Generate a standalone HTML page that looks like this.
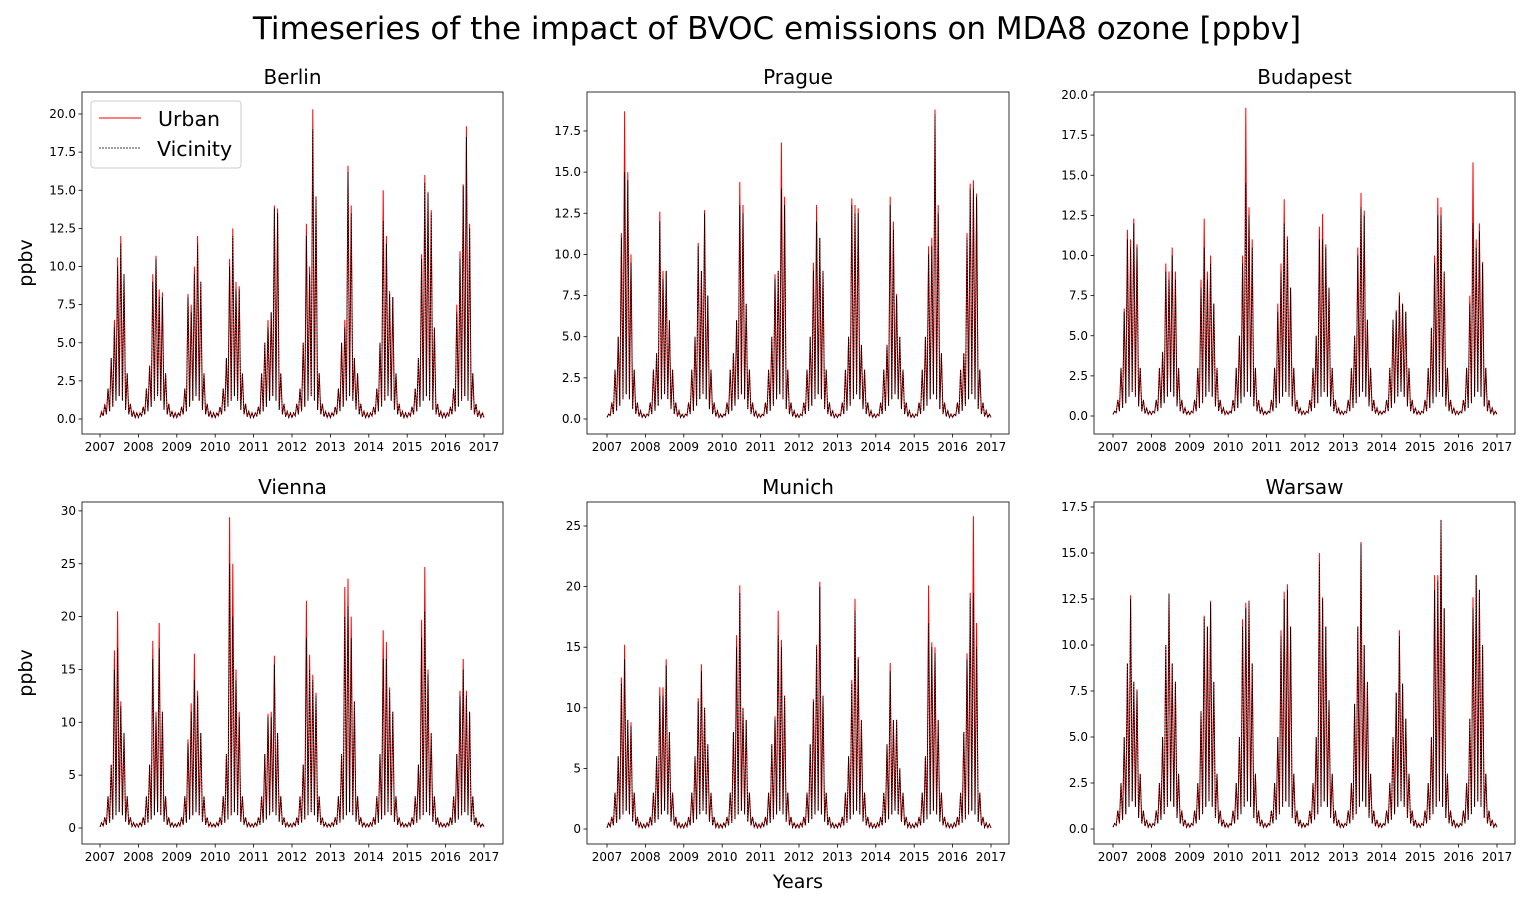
<!DOCTYPE html>
<html><head><meta charset="utf-8">
<style>
body{margin:0;background:#fff;}
svg{display:block;font-family:"DejaVu Sans","Liberation Sans",sans-serif;}
</style></head>
<body>
<svg id="fig" width="1533" height="904" viewBox="0 0 1533 904">
<text x="777" y="39" font-size="31" text-anchor="middle" fill="#000">Timeseries of the impact of BVOC emissions on MDA8 ozone [ppbv]</text>
<text x="798" y="888" font-size="19" text-anchor="middle">Years</text>
<text transform="translate(32,263) rotate(-90)" font-size="19" text-anchor="middle">ppbv</text>
<text transform="translate(32,673) rotate(-90)" font-size="19" text-anchor="middle">ppbv</text>
</svg>
<script>
const years = [2007,2008,2009,2010,2011,2012,2013,2014,2015,2016,2017];
const monthlyLow = [0.1,0.2,0.3,0.5,0.8,1.2,1.5,1.2,0.6,0.3,0.15,0.1];
const berlinUrban = [.5,1,2,4,6.5,10.6,12,9.5,3,1,.5,.4, .4,.8,2,3.5,9.5,10.7,8.5,8.3,3,1,.5,.4, .4,.8,2,8.2,7.5,10,12,9,3,1,.5,.4, .4,.8,2,4,10.5,12.5,9,8.7,3,1,.5,.4, .4,.8,3,5,6.5,7,14,13.8,3,1,.5,.4, .4,1,2,5,12.8,10,20.3,14.6,3,1,.5,.4, .4,.8,2,5,6.5,16.6,14,4,3,1,.5,.4, .4,.8,2,5,15,12,8.4,8,3,1,.5,.4, .4,.8,2,4,10.8,16,14.9,13.7,6,1,.5,.4, .4,.8,2,7.5,11,15.4,19.2,12.8,3,1,.5,.4];
const berlinVicinity = [.4,.9,2,4,6,10,11.5,9.5,3,1,.5,.4, .4,.8,2,3.5,9,10.5,8,8,3,1,.5,.4, .4,.8,2,8,7,9.5,11.5,9,3,1,.5,.4, .4,.8,2,4,10,12,8.5,8.5,3,1,.5,.4, .4,.8,3,5,6,7,13.8,13.5,3,1,.5,.4, .4,1,2,5,12,9.5,19,14.5,3,1,.5,.4, .4,.8,2,5,6,16.2,13.5,4,3,1,.5,.4, .4,.8,2,5,13,11.5,8.2,8,3,1,.5,.4, .4,.8,2,4,10.5,15.5,14.8,13.5,6,1,.5,.4, .4,.8,2,7,10.5,15.3,18.5,12.5,3,1,.5,.4];
const pragueUrban = [.3,1,3,5,11.3,18.7,15,10,3,1,.5,.3, .3,1,3,4,12.6,9,9,6,3,1,.5,.3, .3,1,3,5,10.7,9,12.7,7.5,3,1,.5,.3, .3,1,3,4,6,14.4,13,7,3,1,.5,.3, .3,1,3,5,8.8,9,16.8,13.5,3,1,.5,.3, .3,1,3,5,9.5,13,11,9,3,1,.5,.3, .3,1,3,5,13.4,13,12.8,4.5,3,1,.5,.3, .3,1,3,4.5,13.5,12,7.6,5,3,1,.5,.3, .3,1,3,5,10.5,11,18.8,13,4,1,.5,.3, .3,1,3,4,11.3,14.3,14.5,13.7,3,1,.5,.3];
const pragueVicinity = [.3,1,3,5,11,15,14.5,9.5,3,1,.5,.3, .3,1,3,4,12,8.5,9,6,3,1,.5,.3, .3,1,3,5,10.5,9,12.5,7.5,3,1,.5,.3, .3,1,3,4,6,13,12.5,7,3,1,.5,.3, .3,1,3,5,8.5,9,14,13,3,1,.5,.3, .3,1,3,5,9,12,11,9,3,1,.5,.3, .3,1,3,5,13,12.5,12.5,4.5,3,1,.5,.3, .3,1,3,4.5,13,11.5,7.5,5,3,1,.5,.3, .3,1,3,5,10,10.5,18.5,12.5,4,1,.5,.3, .3,1,3,4,11,14,14,13.5,3,1,.5,.3];
const budapestUrban = [.3,1,3,6.7,11.6,11,12.3,10.7,3,1,.5,.3, .3,1,3,4,9.5,9,10.5,9,3,1,.5,.3, .3,1,3,8.5,12.3,9,10,7,3,1,.5,.3, .3,1,3,5,10,19.2,13,11,3,1,.5,.3, .3,1,3,7,9.5,13.5,11.2,8,3,1,.5,.3, .3,1,3,5,11.8,12.6,10.7,8,3,1,.5,.3, .3,1,3,5,10.5,13.9,12.8,6,3,1,.5,.3, .3,1,3,6,6.6,7.7,7,6.5,3,1,.5,.3, .3,1,3,5.5,10,13.6,13,9,3,1,.5,.3, .3,1,3,7.5,15.8,11,12,9.6,3,1,.5,.3];
const budapestVicinity = [.3,1,3,6.5,11,10.5,12,10.5,3,1,.5,.3, .3,1,3,4,9,8.5,10,8.5,3,1,.5,.3, .3,1,3,8,10.5,8.5,9.5,7,3,1,.5,.3, .3,1,3,5,9.5,14.5,12.5,10.5,3,1,.5,.3, .3,1,3,6.5,9,12,11,8,3,1,.5,.3, .3,1,3,5,11,11,10.5,8,3,1,.5,.3, .3,1,3,5,10,13,12.5,6,3,1,.5,.3, .3,1,3,6,6.5,7.5,7,6.5,3,1,.5,.3, .3,1,3,5.5,9.5,12.5,12.5,9,3,1,.5,.3, .3,1,3,7,12,10.5,11.5,9.5,3,1,.5,.3];
const viennaUrban = [.5,1,3,6,16.8,20.5,12,9,3,1,.5,.4, .5,1,3,6,17.7,11,19.4,11,3,1,.5,.4, .5,1,3,8.4,11.8,16.5,13,9,3,1,.5,.4, .5,1,3,7,29.4,25,15,11,3,1,.5,.4, .5,1,3,7,10.8,11,16.3,9,3,1,.5,.4, .5,1,3,6,21.5,16.4,14.5,12.8,3,1,.5,.4, .5,1,3,7,22.8,23.6,20,12,3,1,.5,.4, .5,1,3,7,18.7,17.6,13.3,11,3,1,.5,.4, .5,1,3,6,19.7,24.7,15,9,3,1,.5,.4, .5,1,3,7,13,16,13,11,3,1,.5,.4];
const viennaVicinity = [.5,1,3,6,15,17,11.5,9,3,1,.5,.4, .5,1,3,6,16,10.5,17,11,3,1,.5,.4, .5,1,3,8,11,14,12.5,9,3,1,.5,.4, .5,1,3,7,25,20,14,10.5,3,1,.5,.4, .5,1,3,7,10.5,10.5,15.5,9,3,1,.5,.4, .5,1,3,6,18,15,14,12.5,3,1,.5,.4, .5,1,3,7,20,21,18,12,3,1,.5,.4, .5,1,3,7,16,16,13,11,3,1,.5,.4, .5,1,3,6,18,20.5,14.5,9,3,1,.5,.4, .5,1,3,7,12.5,15,12.5,11,3,1,.5,.4];
const munichUrban = [.5,1,3,6,12.5,15.2,9,8.8,3,1,.5,.4, .5,1,3,6,11.7,11.7,14,8,3,1,.5,.4, .5,1,3,6,10.8,13.6,10,7,3,1,.5,.4, .5,1,3,8,16,20.1,10,9,3,1,.5,.4, .5,1,3,7,9.3,18,15.6,11,3,1,.5,.4, .5,1,3,7,10.7,15.2,20.4,11,3,1,.5,.4, .5,1,3,6,12.3,19,14.2,9,3,1,.5,.4, .5,1,3,7,13.7,9,9,5,3,1,.5,.4, .5,1,3,6,20.1,15.4,15,9,3,1,.5,.4, .5,1,3,8,14.5,19.5,25.8,17,3,1,.5,.4];
const munichVicinity = [.5,1,3,6,12,14,9,8.5,3,1,.5,.4, .5,1,3,6,11,11,13.5,8,3,1,.5,.4, .5,1,3,6,10.5,13,10,7,3,1,.5,.4, .5,1,3,8,15,19.5,10,9,3,1,.5,.4, .5,1,3,7,9,16,15,11,3,1,.5,.4, .5,1,3,7,10.5,15,20,11,3,1,.5,.4, .5,1,3,6,12,18,14,9,3,1,.5,.4, .5,1,3,7,13,9,9,5,3,1,.5,.4, .5,1,3,6,17,15,14.5,9,3,1,.5,.4, .5,1,3,8,14,19,19.5,15,3,1,.5,.4];
const warsawUrban = [.3,1,2.5,5,9,12.7,8,7.6,3,1,.5,.3, .3,1,2.5,5,10,12.8,9,8,3,1,.5,.3, .3,1,2.5,6.4,11.6,11,12.4,8,3,1,.5,.3, .3,1,2.5,5,11.4,12.3,12.4,9,3,1,.5,.3, .3,1,2.5,5,10.8,12.9,13.3,11,3,1,.5,.3, .3,1,2.5,5,15,12.6,11,7,3,1,.5,.3, .3,1,2.5,6.8,11,15.6,10,8,3,1,.5,.3, .3,1,2.5,5,7.4,10.8,7.9,6,3,1,.5,.3, .3,1,2.5,5,13.8,13.8,16.8,12,3,1,.5,.3, .3,1,2.5,6,12.6,13.8,13,10,3,1,.5,.3];
const warsawVicinity = [.3,1,2.5,5,9,12.5,8,7.5,3,1,.5,.3, .3,1,2.5,5,10,12.8,9,8,3,1,.5,.3, .3,1,2.5,6.4,11.5,11,12.3,8,3,1,.5,.3, .3,1,2.5,5,11,12,12.4,9,3,1,.5,.3, .3,1,2.5,5,10.5,12.5,13,11,3,1,.5,.3, .3,1,2.5,5,14.5,12.5,11,7,3,1,.5,.3, .3,1,2.5,6.8,11,15.5,10,8,3,1,.5,.3, .3,1,2.5,5,7.4,10.5,7.9,6,3,1,.5,.3, .3,1,2.5,5,13,13.5,16.8,12,3,1,.5,.3, .3,1,2.5,6,12,13.8,13,10,3,1,.5,.3];
const ticks25 = ['0.0','2.5','5.0','7.5','10.0','12.5','15.0','17.5','20.0'];
const ticks5 = ['0','5','10','15','20','25','30'];

const NS='http://www.w3.org/2000/svg';
const svg=document.getElementById('fig');
function mk(tag,attrs,parent){const e=document.createElementNS(NS,tag);for(const k in attrs)e.setAttribute(k,attrs[k]);(parent||svg).appendChild(e);return e;}

const panels=[
 {name:'Berlin',u:berlinUrban,v:berlinVicinity,L:82,R:503,T:92,B:434,x0:100,x1:484,y0:419,ppu:15.25,tl:ticks25.slice(0,9),step:2.5,legend:true},
 {name:'Prague',u:pragueUrban,v:pragueVicinity,L:587,R:1009,T:92,B:434,x0:607,x1:991,y0:419,ppu:16.46,tl:ticks25.slice(0,8),step:2.5},
 {name:'Budapest',u:budapestUrban,v:budapestVicinity,L:1094,R:1515,T:92,B:434,x0:1113,x1:1497,y0:416,ppu:16.05,tl:ticks25.slice(0,9),step:2.5},
 {name:'Vienna',u:viennaUrban,v:viennaVicinity,L:82,R:503,T:502,B:844,x0:100,x1:484,y0:828,ppu:10.57,tl:ticks5.slice(0,7),step:5},
 {name:'Munich',u:munichUrban,v:munichVicinity,L:587,R:1009,T:502,B:844,x0:607,x1:991,y0:829,ppu:12.12,tl:ticks5.slice(0,6),step:5},
 {name:'Warsaw',u:warsawUrban,v:warsawVicinity,L:1094,R:1515,T:502,B:844,x0:1113,x1:1497,y0:829,ppu:18.4,tl:ticks25.slice(0,8),step:2.5}
];

panels.forEach(p=>{
 const g=mk('g',{});
 
 
 const xs=t=>p.x0+(t-2007)*(p.x1-p.x0)/10;
 const ys=v=>p.y0-v*p.ppu;
 const t=mk('text',{x:(p.L+p.R)/2,y:p.T-8,'font-size':20,'text-anchor':'middle'},g);
 t.textContent=p.name;
 
 
 function line(arr,color,w,dash,off){
  let d='';
  arr.forEach((hv,i)=>{
   const tm=2007+i/12+off;
   const lo=monthlyLow[i%12];
   d+=(i?'L':'M')+xs(tm).toFixed(1)+','+ys(lo).toFixed(1)+'L'+xs(tm+1/24).toFixed(1)+','+ys(hv).toFixed(1);
  });
  const last=2007+arr.length/12;
  d+='L'+xs(last).toFixed(1)+','+ys(monthlyLow[11]).toFixed(1);
  return mk('path',{d:d,fill:'none',stroke:color,'stroke-width':w,'stroke-dasharray':dash||'none','stroke-linejoin':'miter'},g);
 }
 const pu=line(p.u,'#ff0000',1,null,0);
 
 
 const pv=line(p.v,'#000000',0.9,'2,1',0);
 
 
 const fr=mk('rect',{x:p.L,y:p.T,width:p.R-p.L,height:p.B-p.T,fill:'none',stroke:'#000','stroke-width':0.8},g);
 
 
 p.tl.forEach((lab,i)=>{
  const y=ys(i*p.step);
  mk('line',{x1:p.L-3.5,x2:p.L,y1:y,y2:y,stroke:'#000','stroke-width':0.8},g);
  const tx=mk('text',{x:p.L-6,y:y+4,'font-size':12,'text-anchor':'end'},g);
  tx.textContent=lab;
  
  
 });
 years.forEach(yr=>{
  const x=xs(yr);
  mk('line',{x1:x,x2:x,y1:p.B,y2:p.B+3.5,stroke:'#000','stroke-width':0.8},g);
  const tx=mk('text',{x:x,y:p.B+17,'font-size':12,'text-anchor':'middle'},g);
  tx.textContent=yr;
  
  
 });
 if(p.legend){
  const lg=mk('g',{},g);
  
  
  mk('rect',{x:91,y:101,width:150,height:67,rx:3,fill:'#fff','fill-opacity':0.8,stroke:'#ccc'},lg);
  mk('line',{x1:99,x2:141,y1:118,y2:118,stroke:'#f00','stroke-width':1},lg);
  mk('line',{x1:99,x2:141,y1:148,y2:148,stroke:'#000','stroke-width':0.8,'stroke-dasharray':'2,1'},lg);
  const a=mk('text',{x:158,y:126,'font-size':20.5},lg);a.textContent='Urban';
  
  
  const b=mk('text',{x:157,y:156,'font-size':20.5},lg);b.textContent='Vicinity';
  
  
 }
});
</script>
</body></html>
